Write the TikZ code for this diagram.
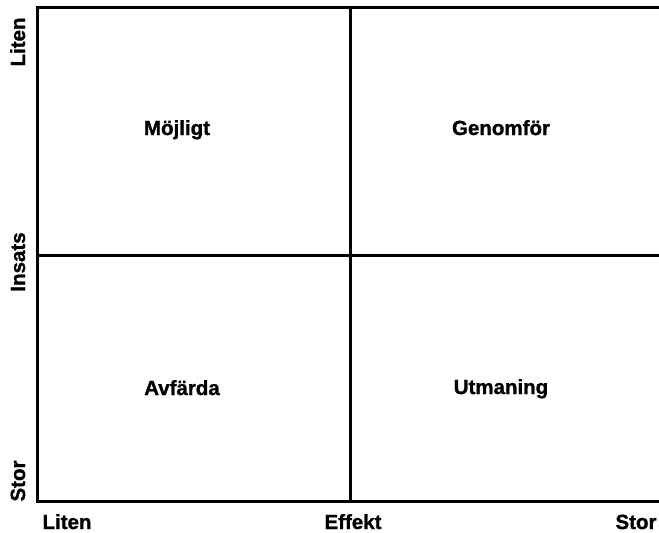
\documentclass[tikz,border=0pt]{standalone}
\usepackage{fontspec}
\setmainfont{Liberation Sans}
\newfontfamily\heavyfont{Liberation Sans Bold}[FakeBold=1.2]
\begin{document}
\begin{tikzpicture}[x=1pt, y=-1pt]
    % --- CONFIGURAZIONE ---
    \tikzset{
        grid_line/.style={line width=3pt},
        label_style/.style={font=\heavyfont\fontsize{20.5}{24}\selectfont, inner sep=0pt, anchor=base},
        axis_label/.style={label_style, rotate=90}
    }

    \useasboundingbox (0,0) rectangle (659,533);

    % Angoli e centro della griglia
    \coordinate (tl) at (37.5,7.5);
    \coordinate (tr) at (662,7.5);
    \coordinate (bl) at (37.5,501);
    \coordinate (br) at (662,501);
    \coordinate (mt) at (350,7.5);
    \coordinate (mb) at (350,501);
    \coordinate (ml) at (37.5,255.5);
    \coordinate (mr) at (662,255.5);

    % ===================================================
    % GRIGLIA
    % ===================================================
    \draw[grid_line] (tr) -- (tl) -- (bl) -- (br);
    \draw[grid_line] (mt) -- (mb);
    \draw[grid_line] (ml) -- (mr);

    % ===================================================
    % QUADRANTI
    % ===================================================
    \node[label_style] (mojligt) at (177,135) {Möjligt};
    \node[label_style] (genomfor) at (501,135) {Genomför};
    \node[label_style] (avfarda) at (182,395) {Avfärda};
    \node[label_style] (utmaning) at (501,394) {Utmaning};

    % ===================================================
    % ASSI
    % ===================================================
    \node[label_style] (x_low) at (67,529) {Liten};
    \node[label_style] (x_name) at (353,529) {Effekt};
    \node[label_style] (x_high) at (636,529) {Stor};

    \node[axis_label] (y_low) at (25,42) {Liten};
    \node[axis_label] (y_name) at (25,262) {Insats};
    \node[axis_label] (y_high) at (25,481) {Stor};

\end{tikzpicture}
\end{document}
